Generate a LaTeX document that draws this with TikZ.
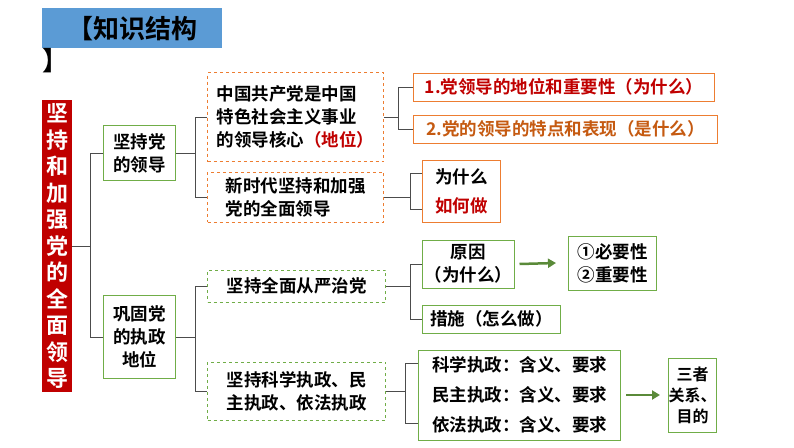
\documentclass[tikz,border=0pt]{standalone}
\usepackage{fontspec}
\newfontfamily\cjk{Noto Sans CJK SC}[BoldFont={Noto Sans CJK SC Bold}]
\usetikzlibrary{positioning,arrows.meta}
\definecolor{tblue}{HTML}{5B9BD5}
\definecolor{tred}{HTML}{C00000}
\definecolor{tgreen}{HTML}{70AD47}
\definecolor{torange}{HTML}{ED7D31}
\definecolor{tbrown}{HTML}{C55A11}
\begin{document}
\begin{tikzpicture}[x=1pt,y=-1pt, font=\cjk\bfseries\fontsize{17.5}{23}\selectfont,
  every node/.style={inner sep=2pt},
  gbox/.style={draw=tgreen, line width=1pt, align=center},
  gdash/.style={draw=tgreen, dashed, line width=1pt, align=left, anchor=west},
  odash/.style={draw=torange, dashed, line width=1pt, align=left, anchor=west},
  obox/.style={draw=torange, line width=1pt, anchor=west},
  brace/.style={draw=black!70, line width=0.8pt},
  garrow/.style={-{Triangle[length=8pt,width=9pt]}, draw=tgreen!80!black, line width=2.5pt}]
  \useasboundingbox (0,0) rectangle (794,447);
  % title
  \node[fill=tblue, minimum width=180pt, minimum height=40pt, anchor=north west,
        font=\cjk\bfseries\fontsize{26}{30}\selectfont, text=black] (title) at (42,8) {【知识结构};
  \node[font=\cjk\bfseries\fontsize{26}{30}\selectfont, anchor=north west] (titleend) at (40,46) {】};
  % left column
  \node[fill=tred, text=white, minimum width=30pt, minimum height=292pt, anchor=north west,
        align=center, font=\cjk\bfseries\fontsize{22}{26.5}\selectfont] (main) at (42,100)
        {坚\\持\\和\\加\\强\\党\\的\\全\\面\\领\\导};
  \node[gbox, minimum width=72pt, minimum height=55pt, anchor=north west] (lead) at (103,125) {坚持党\\的领导};
  \node[gbox, minimum width=72pt, minimum height=83pt, anchor=north west] (rule) at (103,295) {巩固党\\的执政\\地位};
  \coordinate (s0) at (90,0);
  \draw[brace] (main.east) -- (main.east -| s0);
  \draw[brace] (lead.west) -- (lead.west -| s0) -- (rule.west -| s0) -- (rule.west);
  % second column
  \node[odash, minimum width=176pt, minimum height=89pt] (core) at (207,117)
       {中国共产党是中国\\特色社会主义事业\\的领导核心\textcolor{tred}{（地位）}};
  \node[odash, minimum width=176pt, minimum height=50pt] (newera) at (207,197)
       {新时代坚持和加强\\党的全面领导};
  \node[gdash, minimum width=178pt, minimum height=32pt] (strict) at (207,286) {坚持全面从严治党};
  \node[gdash, minimum width=178pt, minimum height=58pt] (sci) at (207,391)
       {坚持科学执政、民\\主执政、依法执政};
  \coordinate (s1) at (195,0);
  \draw[brace] (lead.east) -- (lead.east -| s1);
  \draw[brace] (core.west) -- (core.west -| s1) -- (newera.west -| s1) -- (newera.west);
  \draw[brace] (rule.east) -- (rule.east -| s1);
  \draw[brace] (strict.west) -- (strict.west -| s1) -- (sci.west -| s1) -- (sci.west);
  % third column
  \node[obox, text=tred, minimum width=301pt, minimum height=28pt] (why1) at (413,87) {1.党领导的地位和重要性（为什么）};
  \node[obox, text=tbrown, minimum width=304pt, minimum height=28pt] (what1) at (413,129) {2.党的领导的特点和表现（是什么）};
  \node[obox, minimum width=78pt, minimum height=62pt, align=center] (how) at (422,191)
       {为什么\\[6pt]\textcolor{tred}{如何做}};
  \node[gbox, minimum width=88pt, minimum height=48pt, anchor=west] (cause) at (422,264) {原因\\（为什么）};
  \node[gbox, minimum width=138pt, minimum height=28pt, anchor=west] (measure) at (422,319) {措施（怎么做）};
  \node[gbox, minimum width=88pt, minimum height=54pt, anchor=west, align=left] (need) at (568,263) {①必要性\\②重要性};
  \node[gbox, minimum width=202pt, minimum height=90pt, anchor=west, align=left,
        font=\cjk\bfseries\fontsize{17.5}{30}\selectfont] (three) at (418,395)
       {科学执政：含义、要求\\民主执政：含义、要求\\依法执政：含义、要求};
  \node[gbox, minimum width=44pt, minimum height=74pt, anchor=west, inner sep=0pt,
        font=\cjk\bfseries\fontsize{16}{21}\selectfont] (relate) at (668,395) {三者\\关系、\\目的};
  \coordinate (s2) at (398,0);
  \draw[brace] (core.east) -- (core.east -| s2);
  \draw[brace] (why1.west) -- (why1.west -| s2) -- (what1.west -| s2) -- (what1.west);
  \coordinate (s3) at (410,0);
  \draw[brace] (newera.east) -- (newera.east -| s3);
  \draw[brace] ([yshift=-18pt]how.west) -- ([yshift=-18pt]how.west -| s3) -- ([yshift=18pt]how.west -| s3) -- ([yshift=18pt]how.west);
  \draw[brace] (strict.east) -- (strict.east -| s3);
  \draw[brace] (cause.west) -- (cause.west -| s3) -- (measure.west -| s3) -- (measure.west);
  \coordinate (s4) at (405,0);
  \draw[brace] (sci.east) -- (sci.east -| s4);
  \draw[brace] ([yshift=-28pt]three.west) -- ([yshift=-28pt]three.west -| s4) -- ([yshift=32pt]three.west -| s4) -- ([yshift=32pt]three.west);
  \draw[garrow] ([xshift=5pt]cause.east) -- ([xshift=-12pt]need.west);
  \draw[garrow] ([xshift=5pt]three.east) -- ([xshift=-8pt]relate.west);
\end{tikzpicture}
\end{document}
